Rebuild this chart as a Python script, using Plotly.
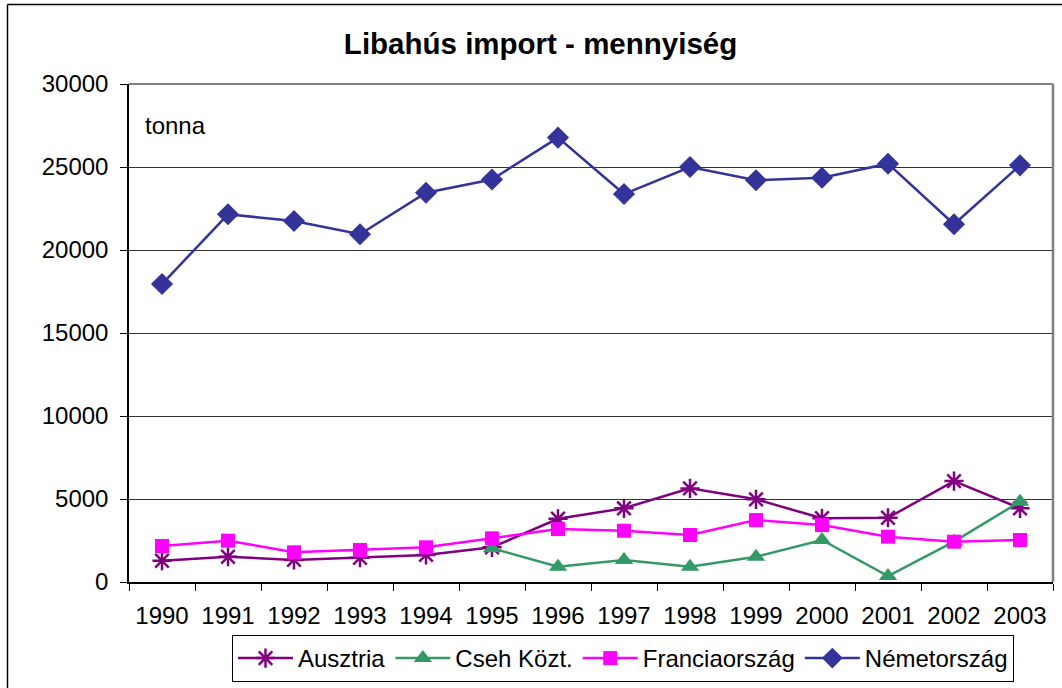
import plotly.graph_objects as go

years = ["1990", "1991", "1992", "1993", "1994", "1995", "1996",
         "1997", "1998", "1999", "2000", "2001", "2002", "2003"]
ausztria = [1280, 1520, 1330, 1460, 1630, 2090, 3810,
            4440, 5640, 4980, 3840, 3870, 6080, 4440]
cseh = [None, None, None, None, None, 2030, 920,
        1330, 920, 1520, 2530, 360, 2430, 4840]
francia = [2170, 2490, 1790, 1930, 2090, 2630, 3190,
           3090, 2830, 3730, 3430, 2730, 2430, 2530]
nemet = [17950, 22150, 21750, 20950, 23450, 24250, 26770,
         23370, 25000, 24200, 24350, 25200, 21550, 25100]

FONT = "Liberation Sans, Arial, sans-serif"

fig = go.Figure()
fig.add_trace(go.Scatter(x=years, y=ausztria, name="Ausztria", mode="lines+markers",
                         line=dict(color="#800080", width=2.5),
                         marker=dict(symbol="asterisk-open", size=16, color="#800080",
                                     line=dict(color="#800080", width=2.5))))
fig.add_trace(go.Scatter(x=years, y=cseh, name="Cseh Közt.", mode="lines+markers",
                         line=dict(color="#339966", width=2.5),
                         marker=dict(symbol="triangle-up", size=16, color="#339966")))
fig.add_trace(go.Scatter(x=years, y=francia, name="Franciaország", mode="lines+markers",
                         line=dict(color="#FF00FF", width=2.5),
                         marker=dict(symbol="square", size=14, color="#FF00FF")))
fig.add_trace(go.Scatter(x=years, y=nemet, name="Németország", mode="lines+markers",
                         line=dict(color="#333399", width=2.5),
                         marker=dict(symbol="diamond", size=17, color="#333399")))

# plot area geometry (pixels): left 129, right 1053, top 84, bottom 582
def px_x(p):
    return (p - 129) / (1053 - 129)

def px_y(p):
    return (582 - p) / (582 - 84)

shapes = [
    dict(type="line", xref="paper", yref="paper", x0=0, x1=1, y0=1, y1=1,
         line=dict(color="#808080", width=2)),
    dict(type="line", xref="paper", yref="paper", x0=1, x1=1, y0=0, y1=1,
         line=dict(color="#808080", width=2.5)),
    dict(type="line", xref="paper", yref="paper", x0=px_x(7.5), x1=px_x(7.5),
         y0=px_y(700), y1=px_y(4.5), line=dict(color="black", width=1.5)),
    dict(type="line", xref="paper", yref="paper", x0=px_x(7.5), x1=px_x(1075),
         y0=px_y(4.5), y1=px_y(4.5), line=dict(color="black", width=1.5)),
]

fig.update_layout(
    width=1062, height=688,
    margin=dict(l=129, r=9, t=84, b=106, autoexpand=False),
    paper_bgcolor="white", plot_bgcolor="white",
    font=dict(family=FONT, color="black", size=24),
    title=dict(text="<b>Libahús import - mennyiség</b>", x=0.509, xanchor="center",
               y=1 - 44 / 688, yanchor="middle", font=dict(size=29.5, family=FONT)),
    showlegend=True,
    legend=dict(orientation="h", x=px_x(623), xanchor="center", y=px_y(635), yanchor="top",
                bordercolor="black", borderwidth=1, bgcolor="white",
                font=dict(size=24, family=FONT), itemwidth=55, traceorder="normal",
                tracegroupgap=0),
    shapes=shapes,
    annotations=[dict(text="tonna", xref="paper", yref="paper", x=px_x(143), y=px_y(125),
                      xanchor="left", yanchor="middle", showarrow=False,
                      font=dict(size=24, family=FONT))],
)

fig.update_xaxes(type="category", tickson="boundaries", ticks="outside", ticklen=7,
                 tickcolor="black", showline=True, linecolor="black", linewidth=1.5,
                 showgrid=False, tickfont=dict(size=24), ticklabelstandoff=11,
                 range=[-0.5, 13.5])
fig.update_yaxes(range=[0, 30000], dtick=5000, ticks="outside", ticklen=7,
                 tickcolor="black", showline=True, linecolor="black", linewidth=1.5,
                 showgrid=True, gridcolor="#333333", gridwidth=1, zeroline=False,
                 tickfont=dict(size=24), ticklabelstandoff=7, tickformat="d")

fig.write_html("out.html", config={"displayModeBar": False},
               post_script="document.body.style.margin='0';")
